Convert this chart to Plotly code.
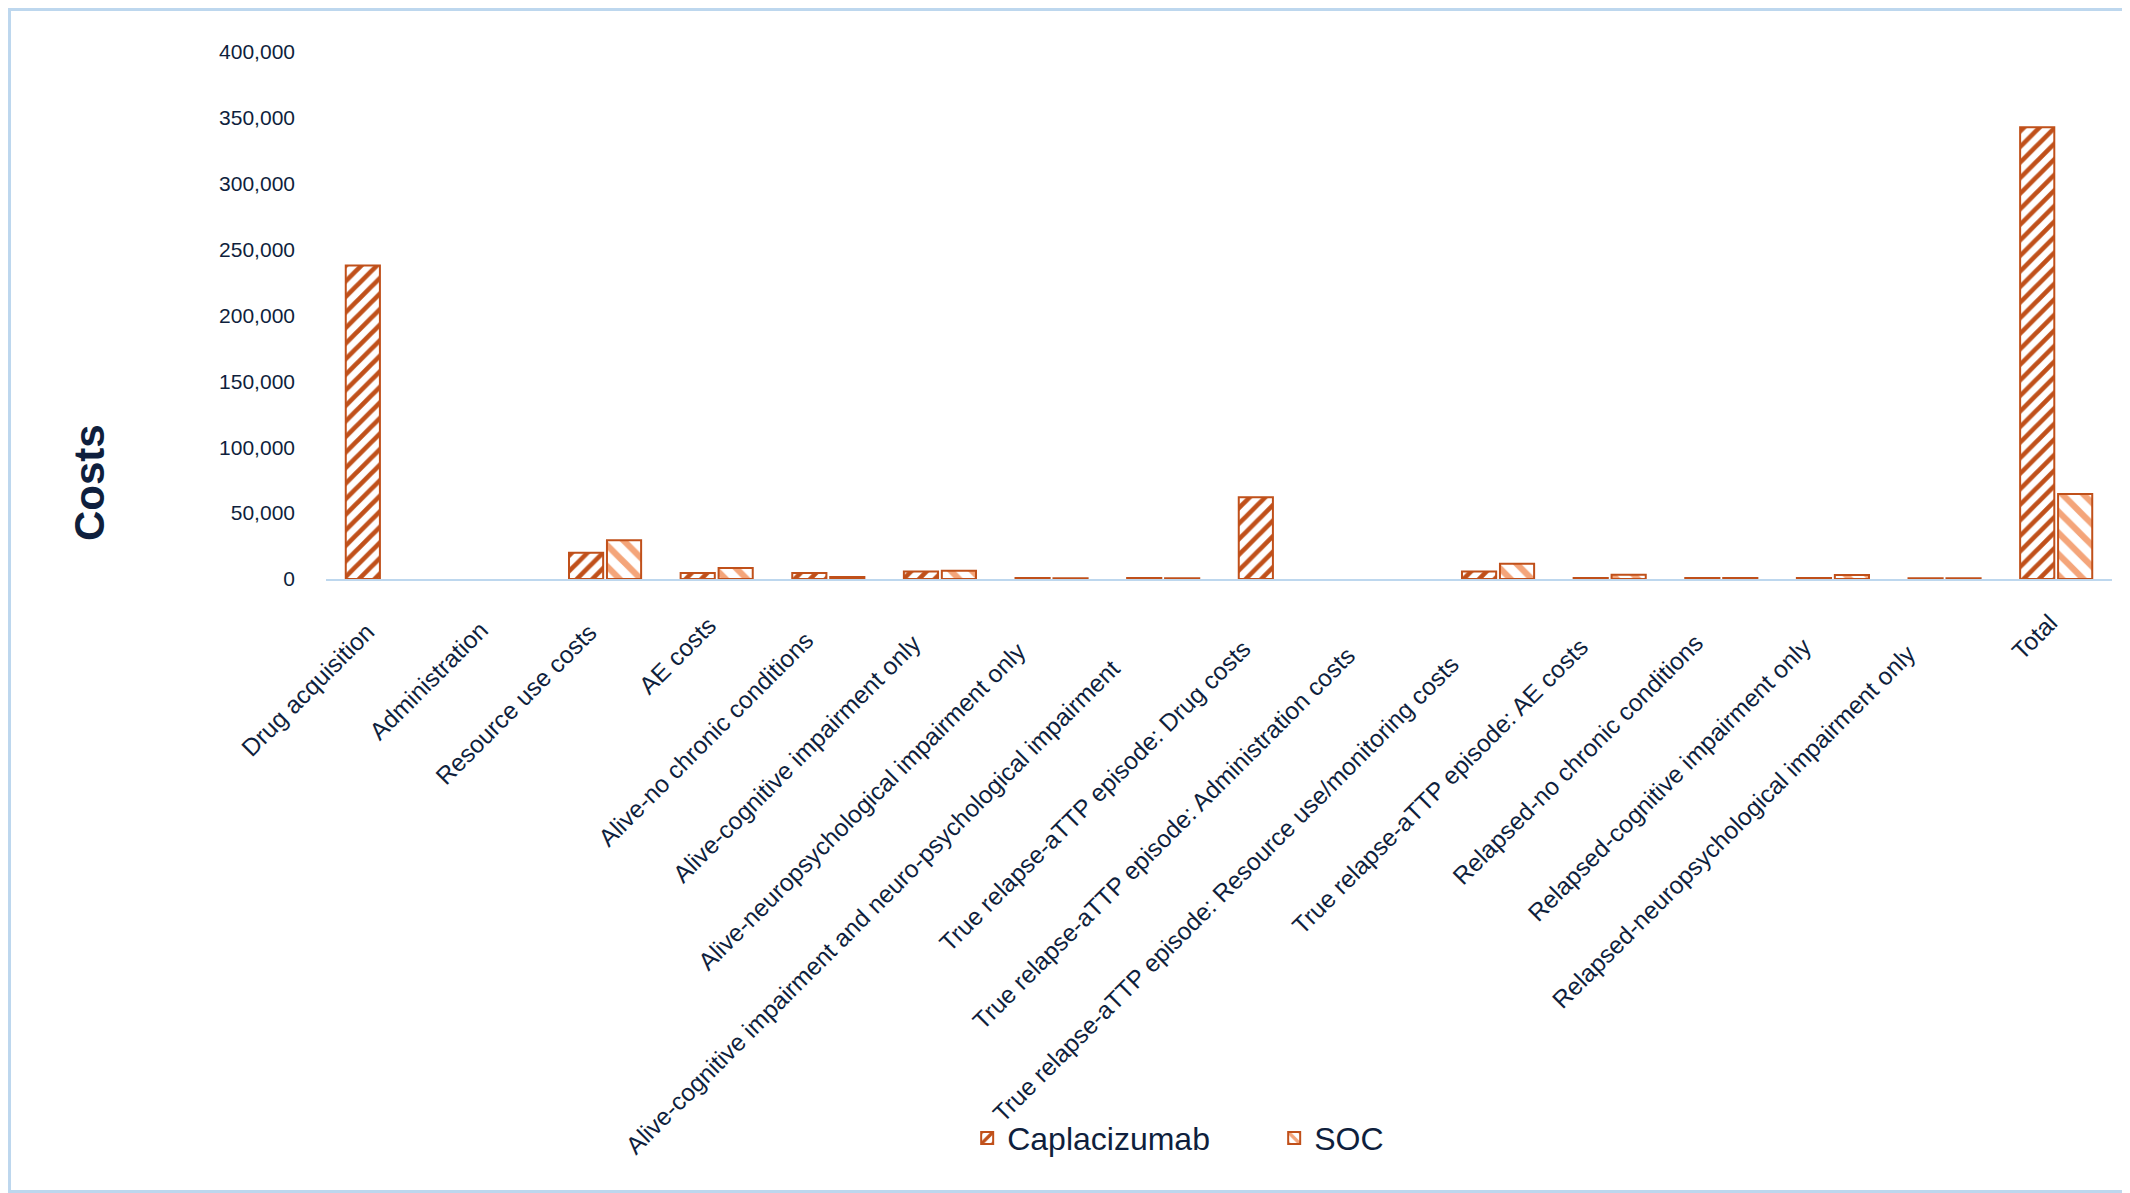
import plotly.graph_objects as go

# Cost categories (x axis)
categories = [
    "Drug acquisition",
    "Administration",
    "Resource use costs",
    "AE costs",
    "Alive-no chronic conditions",
    "Alive-cognitive impairment only",
    "Alive-neuropsychological impairment only",
    "Alive-cognitive impairment and neuro-psychological impairment",
    "True relapse-aTTP episode: Drug costs",
    "True relapse-aTTP episode: Administration costs",
    "True relapse-aTTP episode: Resource use/monitoring costs",
    "True relapse-aTTP episode: AE costs",
    "Relapsed-no chronic conditions",
    "Relapsed-cognitive impairment only",
    "Relapsed-neuropsychological impairment only",
    "Total",
]

# Costs
caplacizumab = [238000, 0, 20000, 4500, 4500, 5600, 800, 800,
                62000, 0, 5600, 800, 700, 800, 600, 342800]
soc = [0, 0, 29500, 8400, 1600, 6200, 600, 600,
       0, 0, 11500, 3300, 700, 3000, 600, 64500]

ytick_vals = [0, 50000, 100000, 150000, 200000, 250000, 300000, 350000, 400000]

DARK = "#C0501A"
LIGHT = "#F4A57A"
TEXT = "#0F1F3D"
AXIS = "#BDD7EE"


def nonzero(values):
    # empty bars are not drawn at all in the original
    return [v if v else None for v in values]


fig = go.Figure()
fig.add_trace(go.Bar(
    x=categories, y=nonzero(caplacizumab), name="Caplacizumab",
    marker=dict(color="white", line=dict(color=DARK, width=2),
                pattern=dict(shape="/", fgcolor=DARK, bgcolor="white", fgopacity=1,
                             size=11, solidity=0.42)),
))
fig.add_trace(go.Bar(
    x=categories, y=nonzero(soc), name="SOC",
    marker=dict(color="white", line=dict(color=DARK, width=2),
                pattern=dict(shape="\\", fgcolor=LIGHT, bgcolor="white", fgopacity=1,
                             size=15, solidity=0.42)),
))

# light blue frame around the picture
fig.add_shape(type="rect", xref="paper", yref="paper",
              x0=-0.1772, x1=1.0092, y0=-1.1622, y1=1.0806,
              line=dict(color=AXIS, width=3), fillcolor="rgba(0,0,0,0)")

# y axis title sits low, next to the lower ticks
fig.add_annotation(text="<b>Costs</b>", xref="paper", yref="paper",
                   x=-0.1467, y=0.0682, textangle=-90, showarrow=False,
                   font=dict(size=42, color=TEXT))

# category labels: Excel-style slanted labels, longer ones slide further down-left
for cat in categories:
    extra = 0.8 * (len(cat) - 16)
    fig.add_annotation(text=cat, x=cat, xref="x", y=0, yref="paper",
                       xanchor="right", yanchor="top", textangle=-45,
                       showarrow=False, font=dict(size=24.5, color=TEXT),
                       xshift=1 - extra, yshift=-(36 + extra))

fig.update_layout(
    width=2122, height=1185,
    margin=dict(l=318, r=18, t=44, b=614),
    paper_bgcolor="white", plot_bgcolor="white",
    font=dict(family="Liberation Sans, Arial, sans-serif", color=TEXT, size=21),
    barmode="group", bargap=0.32, bargroupgap=0.1,
    showlegend=True,
    legend=dict(orientation="h", x=0.359, xanchor="left", y=-1.061, yanchor="middle",
                font=dict(size=32, color=TEXT), itemwidth=30,
                entrywidth=262, entrywidthmode="pixels",
                traceorder="normal"),
)
fig.update_xaxes(
    range=[-0.5, len(categories) - 0.5], autorange=False,
    showticklabels=False,
    showline=True, linecolor=AXIS, linewidth=2,
    showgrid=False, ticks="",
)
fig.update_yaxes(
    range=[0, 400000], tickvals=ytick_vals, tickformat=",",
    tickfont=dict(size=21, color=TEXT),
    showgrid=False, zeroline=False, showline=False, ticks="",
    ticklabelstandoff=30,
)

fig.write_html("out.html")
